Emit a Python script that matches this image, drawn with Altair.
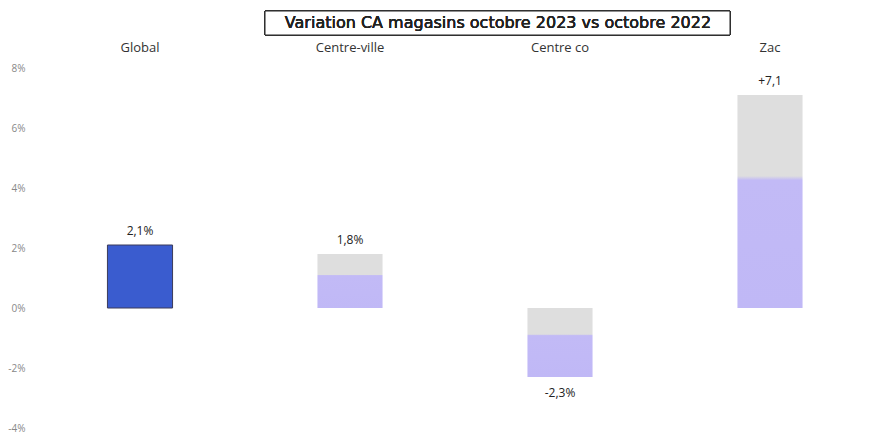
import altair as alt
import pandas as pd

categories = ["Global", "Centre-ville", "Centre co", "Zac"]
values = [2.1, 1.8, -2.3, 7.1]
labels = ["2,1%", "1,8%", "-2,3%", "+7,1"]
y_ticks = [-4, -2, 0, 2, 4, 6, 8]
title_text = "Variation CA magasins octobre 2023 vs octobre 2022"

df = pd.DataFrame({"cat": categories, "val": values, "lab": labels})

x_enc = alt.X("cat:N", sort=categories, title=None,
              scale=alt.Scale(paddingInner=0.69, paddingOuter=0.345),
              axis=alt.Axis(orient="top", ticks=False, domain=False, labelAngle=0,
                            labelPadding=14, labelFontSize=13, labelColor="#333333",
                            labelFont="Open Sans"))
y_enc = alt.Y("val:Q", title=None,
              scale=alt.Scale(domain=[-4, 8], nice=False, zero=True),
              axis=alt.Axis(values=y_ticks, grid=False, domain=False, ticks=False,
                            labelExpr="datum.value + '%'", labelFontSize=10,
                            labelColor="#888888", labelPadding=10, labelFont="Open Sans"))

base = alt.Chart(df)

global_bar = base.transform_filter(alt.datum.cat == "Global").mark_bar(
    color="#3a5ccf", stroke="#3b3b5a", strokeWidth=1
).encode(x=x_enc, y=y_enc, y2=alt.datum(0))

grad = alt.Gradient(
    gradient="linear",
    stops=[
        alt.GradientStop(color="#dedede", offset=0),
        alt.GradientStop(color="#dedede", offset=0.38),
        alt.GradientStop(color="#c2baf6", offset=0.40),
        alt.GradientStop(color="#c0b8f6", offset=1),
    ],
    x1=0, x2=0, y1=0, y2=1,
)
other_bars = base.transform_filter(alt.datum.cat != "Global").mark_bar(
    color=grad
).encode(x=x_enc, y=y_enc, y2=alt.datum(0))

pos_text = base.transform_filter(alt.datum.val >= 0).mark_text(
    dy=-14, fontSize=12, color="#222222", font="Open Sans"
).encode(x=x_enc, y=y_enc, text="lab:N")
neg_text = base.transform_filter(alt.datum.val < 0).mark_text(
    dy=16, fontSize=12, color="#222222", font="Open Sans"
).encode(x=x_enc, y=y_enc, text="lab:N")

title_box = base.mark_rect(fill="white", stroke="#222222", strokeWidth=1).encode(
    x=alt.value(230), x2=alt.value(695), y=alt.value(-57), y2=alt.value(-33)
)
title = base.mark_text(fontSize=16, fontWeight="normal", color="#222222",
                       font="DejaVu Sans").encode(
    x=alt.value(463), y=alt.value(-45), text=alt.value(title_text)
)

chart = alt.layer(global_bar, other_bars, pos_text, neg_text, title_box, title).properties(
    width=840, height=360,
    autosize=alt.AutoSizeParams(type="none"),
    padding={"left": 27, "top": 60, "right": 7, "bottom": 8},
).configure_view(stroke=None)

chart.save("out.html", embed_options={"renderer": "svg", "actions": False})
